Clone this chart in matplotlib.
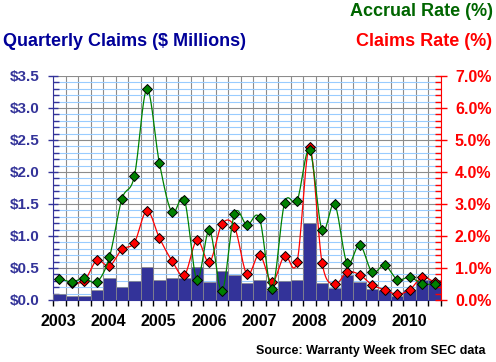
import numpy as np
import matplotlib
matplotlib.use("Agg")
from matplotlib import pyplot as plt
from matplotlib.ticker import MultipleLocator, FixedLocator

plt.rcParams['font.family'] = ['Liberation Sans', 'DejaVu Sans']
plt.rcParams['font.weight'] = 'bold'

# === data (Q1 2003 .. Q3 2010) ===
years = [2003, 2004, 2005, 2006, 2007, 2008, 2009, 2010]
claims_musd = [0.09, 0.07, 0.07, 0.16, 0.34, 0.20, 0.30, 0.51,
               0.32, 0.35, 0.34, 0.52, 0.28, 0.45, 0.39, 0.27,
               0.32, 0.16, 0.29, 0.31, 1.21, 0.26, 0.18, 0.39,
               0.28, 0.17, 0.15, 0.06, 0.15, 0.31, 0.32]
accrual_pct = [0.67, 0.57, 0.68, 0.56, 1.33, 3.15, 3.87, 6.59,
               4.28, 2.74, 3.13, 0.64, 2.18, 0.28, 2.70, 2.34,
               2.55, 0.34, 3.03, 3.10, 4.69, 2.19, 2.99, 1.15,
               1.73, 0.87, 1.09, 0.64, 0.71, 0.51, 0.49]
# claims rate starts in the second quarter
claims_rate_pct = [None, 0.54, 0.60, 1.24, 1.06, 1.58, 1.79, 2.79,
                   1.94, 1.23, 0.78, 1.87, 1.18, 2.37, 2.29, 0.80,
                   1.42, 0.55, 1.39, 1.19, 4.77, 1.16, 0.49, 0.87,
                   0.79, 0.47, 0.32, 0.18, 0.32, 0.71, 0.55]

NAVY = '#333399'
GREEN = '#006600'
RED = '#ff0000'
GRAY = '#8c8c8c'
LBLUE = '#99ccff'


def smooth(x, y, n=16):
    # Catmull-Rom curve through the points, like a spreadsheet "smoothed line"
    x = np.asarray(x, float); y = np.asarray(y, float)
    px = np.concatenate([[2*x[0]-x[1]], x, [2*x[-1]-x[-2]]])
    py = np.concatenate([[2*y[0]-y[1]], y, [2*y[-1]-y[-2]]])
    t = np.linspace(0, 1, n, endpoint=False)
    xs, ys = [], []
    for i in range(1, len(px)-2):
        for p, out in ((px, xs), (py, ys)):
            p0, p1, p2, p3 = p[i-1], p[i], p[i+1], p[i+2]
            out.append(0.5*((2*p1) + (-p0+p2)*t + (2*p0-5*p1+4*p2-p3)*t**2
                            + (-p0+3*p1-3*p2+p3)*t**3))
    xs.append([x[-1]]); ys.append([y[-1]])
    return np.concatenate(xs), np.concatenate(ys)


fig = plt.figure(figsize=(4.96, 3.62), dpi=100)
ax = fig.add_axes([53/496, 62/362, 388/496, 224/362])
ax2 = ax.twinx()

n = len(claims_musd)
xc = np.arange(n) + 0.5
ax.bar(xc, claims_musd, width=1.0, color=NAVY, edgecolor=GRAY, linewidth=0.5, zorder=3)

ax.set_xlim(0, n)
ax.set_ylim(0, 3.5)
ax.yaxis.set_major_locator(MultipleLocator(0.5))
ax.yaxis.set_minor_locator(MultipleLocator(0.1))
ax.set_yticks(np.arange(0, 3.51, 0.5))
ax.set_yticklabels([f'${v:.1f}' for v in np.arange(0, 3.51, 0.5)])
ax.xaxis.set_major_locator(FixedLocator([(y-2003)*4 + 0.45 for y in years]))
ax.set_xticklabels([str(y) for y in years])
ax.xaxis.set_minor_locator(FixedLocator(np.arange(0, n+1)))

ax.grid(which='major', axis='y', color=GRAY, lw=0.8, zorder=0)
ax.grid(which='minor', axis='y', color=LBLUE, lw=0.8, zorder=0)
ax.grid(which='minor', axis='x', color=GRAY, lw=0.8, zorder=0)
ax.grid(which='major', axis='x', visible=False)
ax.set_axisbelow(True)

ax.tick_params(axis='y', which='major', direction='inout', length=7, width=1,
               color=NAVY, labelcolor=NAVY, labelsize=11, pad=6)
ax.tick_params(axis='y', which='minor', direction='in', length=4, width=1, color=NAVY)
ax.tick_params(axis='x', which='major', length=0, labelsize=11.5, labelcolor='black', pad=10)
ax.tick_params(axis='x', which='minor', direction='out', length=4, width=1, color='black')

for s in ['top', 'right']:
    ax.spines[s].set_visible(False)
ax.spines['left'].set_color(NAVY)
ax.spines['bottom'].set_color(NAVY)

# rates on the right axis
ax2.set_ylim(0, 7)
ax2.set_xlim(0, n)
ax2.yaxis.set_major_locator(MultipleLocator(1))
ax2.yaxis.set_minor_locator(MultipleLocator(0.2))
ax2.set_yticks(np.arange(0, 7.01, 1))
ax2.set_yticklabels([f'{v:.1f}%' for v in np.arange(0, 7.01, 1)])
ax2.tick_params(axis='y', which='major', direction='inout', length=8, width=1,
                color=RED, labelcolor=RED, labelsize=11.5, pad=6)
ax2.tick_params(axis='y', which='minor', direction='in', length=4, width=1, color=RED)
for s in ['top', 'left', 'bottom']:
    ax2.spines[s].set_visible(False)
ax2.spines['right'].set_color(RED)

cr_x = [x for x, v in zip(xc, claims_rate_pct) if v is not None]
cr_y = [v for v in claims_rate_pct if v is not None]
sx, sy = smooth(cr_x, cr_y)
ax2.plot(sx, sy, color=RED, lw=0.9, zorder=3)
ax2.plot(cr_x, cr_y, ls='none', marker='D', ms=4.6, mfc=RED, mec='black', mew=0.7, zorder=4)

sx, sy = smooth(xc, accrual_pct)
ax2.plot(sx, sy, color='#008000', lw=0.9, zorder=5)
ax2.plot(xc, accrual_pct, ls='none', marker='D', ms=4.6, mfc='#008000', mec='black', mew=0.7, zorder=6)

fig.text(493/496, 1-12/362, 'Accrual Rate (%)', color=GREEN, fontsize=13,
         fontweight='bold', ha='right', va='center')
fig.text(492/496, 1-42/362, 'Claims Rate (%)', color=RED, fontsize=13,
         fontweight='bold', ha='right', va='center')
fig.text(3/496, 1-42/362, 'Quarterly Claims ($ Millions)', color='#000099', fontsize=13,
         fontweight='bold', ha='left', va='center')
fig.text(485/496, 1-351/362, 'Source: Warranty Week from SEC data', color='black',
         fontsize=9, fontweight='bold', ha='right', va='center')

fig.savefig('out.png', dpi=100, facecolor='white')
